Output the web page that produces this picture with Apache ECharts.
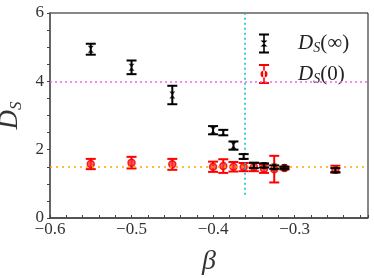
<!DOCTYPE html>
<html><head><meta charset="utf-8">
<script src="https://cdn.jsdelivr.net/npm/echarts@6/dist/echarts.min.js"></script>
<style>html,body{margin:0;padding:0;background:#fff}#c{width:374px;height:278px}</style>
</head><body><div id="c"></div>
<script>
const betaValues = [-0.55, -0.5, -0.45, -0.4, -0.3875, -0.375, -0.3625, -0.35, -0.3375, -0.325, -0.3125, -0.25];
const dsInf = [4.94, 4.41, 3.60, 2.57, 2.50, 2.12, 1.80, 1.54, 1.54, 1.49, 1.47, 1.40];
const dsInfErr = [0.16, 0.20, 0.27, 0.12, 0.08, 0.12, 0.07, 0.08, 0.06, 0.05, 0.03, 0.06];
const ds0 = [1.58, 1.62, 1.57, 1.50, 1.52, 1.50, 1.49, 1.49, 1.44, 1.43, 1.46, 1.43];
const ds0Err = [0.15, 0.17, 0.16, 0.15, 0.20, 0.14, 0.12, 0.12, 0.12, 0.39, 0.04, 0.10];
const xTicks = [-0.6, -0.5, -0.4, -0.3];
const yTicks = [0, 2, 4, 6];
const refY1 = 1.5, refY2 = 4, betaC = -0.361, betaCLow = 0.68;

const serif = 'Liberation Serif';
const bowtie = 'path://M2,7L8,7L5,10L8,13L2,13L5,10Z';
const barBase = 'M0,0H10V2H5.8V18H10V20H0V18H4.2V2H0Z';
const iconInf = 'path://' + barBase + 'M1.5,7L8.5,7L5,10L8.5,13L1.5,13L5,10Z';
const icon0 = 'path://' + barBase + 'M1.5,10a3.5,3.5 0 1,0 7,0a3.5,3.5 0 1,0 -7,0Z';

function errData(ys, es) { return betaValues.map((b, i) => [b, ys[i] - es[i], ys[i] + es[i]]); }
function errRender(color) {
  return function (params, api) {
    const x = api.value(0);
    const lo = api.coord([x, api.value(1)]);
    const hi = api.coord([x, api.value(2)]);
    const hw = 5;
    const st = { stroke: color, lineWidth: 2 };
    return { type: 'group', children: [
      { type: 'line', shape: { x1: lo[0], y1: lo[1], x2: hi[0], y2: hi[1] }, style: st },
      { type: 'line', shape: { x1: lo[0] - hw, y1: lo[1], x2: lo[0] + hw, y2: lo[1] }, style: st },
      { type: 'line', shape: { x1: hi[0] - hw, y1: hi[1], x2: hi[0] + hw, y2: hi[1] }, style: st }
    ]};
  };
}
const nameInf = 'D_S(∞)', name0 = 'D_S(0)';
const chart = echarts.init(document.getElementById('c'), null, { renderer: 'canvas' });
chart.setOption({
  animation: false,
  grid: { left: 50, right: 6, top: 13, bottom: 60, show: true, borderColor: '#111', borderWidth: 1, outerBoundsMode: 'none', containLabel: false },
  legend: {
    orient: 'vertical', left: 254, top: 28, itemWidth: 10, itemHeight: 20, itemGap: 8,
    data: [{ name: nameInf, icon: iconInf, itemStyle: { color: '#000' } }, { name: name0, icon: icon0, itemStyle: { color: '#f00' } }],
    formatter: n => n === nameInf ? '{sp|}{d|D}{s|S}{t|(∞)}' : '{sp|}{d|D}{s|S}{t|(0)}',
    textStyle: { rich: {
      sp: { width: 24 },
      d: { fontFamily: serif, fontStyle: 'italic', fontSize: 21, color: '#222' },
      s: { fontFamily: serif, fontStyle: 'italic', fontSize: 14, color: '#222', padding: [10, 0, 0, 0] },
      t: { fontFamily: serif, fontSize: 21, color: '#222' }
    } }
  },
  xAxis: {
    type: 'value', min: -0.6, max: -0.21, interval: 0.1,
    name: 'β', nameLocation: 'middle', nameGap: 30,
    nameTextStyle: { fontFamily: serif, fontStyle: 'italic', fontSize: 28, color: '#333' },
    axisLine: { onZero: false, lineStyle: { color: '#444', width: 1.5 } },
    axisTick: { inside: true, length: 3, lineStyle: { color: '#444' } },
    minorTick: { show: true, splitNumber: 5, length: 3, lineStyle: { color: '#444' } },
    splitLine: { show: false },
    axisLabel: { fontFamily: serif, fontSize: 17, color: '#333', margin: 3,
      formatter: v => xTicks.some(t => Math.abs(t - v) < 1e-9) ? '−' + Math.abs(v).toFixed(1) : '' }
  },
  yAxis: {
    type: 'value', min: 0, max: 6, interval: 2,
    name: '{d|D}{s|S}', nameLocation: 'middle', nameGap: 24, nameRotate: 90,
    nameTextStyle: { rich: {
      d: { fontFamily: serif, fontStyle: 'italic', fontSize: 27, color: '#333' },
      s: { fontFamily: serif, fontStyle: 'italic', fontSize: 17, color: '#333', padding: [12, 0, 0, 0] }
    } },
    axisLine: { lineStyle: { color: '#666', width: 2 } },
    axisTick: { inside: false, length: 3, lineStyle: { color: '#444' } },
    minorTick: { show: true, splitNumber: 4, length: 3, lineStyle: { color: '#444' } },
    splitLine: { show: false },
    axisLabel: { fontFamily: serif, fontSize: 17, color: '#333', margin: 6,
      formatter: v => yTicks.includes(v) ? String(v) : '' }
  },
  series: [
    { type: 'line', data: [], silent: true,
      markLine: { symbol: 'none', silent: true, label: { show: false }, data: [
        { yAxis: refY1, lineStyle: { color: '#FFA500', type: [2, 4], width: 1.5 } },
        { yAxis: refY2, lineStyle: { color: '#EE66EE', type: [2, 3], width: 1.5 } },
        [{ coord: [betaC, betaCLow], lineStyle: { color: '#00BBC4', type: [2, 3], width: 1.5 } }, { coord: [betaC, 6] }]
      ] } },
    { name: name0, type: 'custom', renderItem: errRender('#f00'), data: errData(ds0, ds0Err), z: 3 },
    { name: name0, type: 'scatter', symbol: 'circle', symbolSize: 7, data: betaValues.map((b, i) => [b, ds0[i]]),
      itemStyle: { color: '#f33', borderColor: '#e00', borderWidth: 1.5 }, z: 4 },
    { name: nameInf, type: 'custom', renderItem: errRender('#000'), data: errData(dsInf, dsInfErr), z: 5 },
    { name: nameInf, type: 'scatter', symbol: bowtie, symbolSize: [6, 7], data: betaValues.map((b, i) => [b, dsInf[i]]),
      itemStyle: { color: '#000' }, z: 6 }
  ]
});
</script></body></html>
